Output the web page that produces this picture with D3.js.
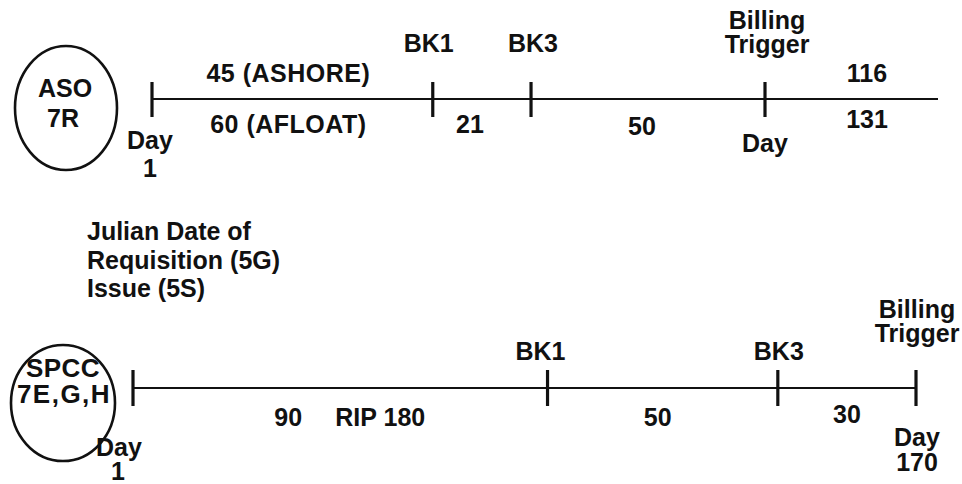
<!DOCTYPE html>
<html>
<head>
<meta charset="utf-8">
<script src="https://cdn.jsdelivr.net/npm/d3@7/dist/d3.min.js"></script>
<style>
  html, body { margin: 0; padding: 0; background: #fff; }
  svg text { font-family: "Liberation Sans", Arial, Helvetica, sans-serif; font-weight: bold; fill: #111; }
</style>
</head>
<body>
<svg id="chart" width="962" height="484"></svg>
<script>
// ---------------- DATA ----------------
// Upper timeline (ASO 7R), days from Day 1
const topMarkers = ["Day 1", "BK1", "BK3", "Billing Trigger"];
const topDays = [0, 60, 81, 131];
const topSegAbove = ["45 (ASHORE)", "", "", "116"];
const topSegBelow = ["60 (AFLOAT)", "21", "50", "131"];
const topEntity = ["ASO", "7R"];

// Lower timeline (SPCC 7E,G,H)
const botMarkers = ["Day 1", "BK1", "BK3", "Billing Trigger"];
const botDays = [0, 90, 140, 170];
const botSegBelow = ["90", "RIP 180", "50", "30"];
const botEntity = ["SPCC", "7E,G,H"];

const noteLines = ["Julian Date of", "Requisition (5G)", "Issue (5S)"];

// ---------------- LAYOUT ----------------
const svg = d3.select("#chart");
const ink = "#111";
const FS = 25;

const xTop = d3.scaleLinear().domain([0, d3.max(topDays)]).range([152, 765]);
const xBot = d3.scaleLinear().domain([0, d3.max(botDays)]).range([133, 916]);

const yTop = 99, yBot = 388;

function text(x, y, s, opts = {}) {
  return svg.append("text")
    .attr("x", x).attr("y", y)
    .attr("text-anchor", opts.anchor || "middle")
    .attr("font-size", opts.size || FS)
    .attr("letter-spacing", opts.ls || 0)
    .text(s);
}

// ----- Upper timeline -----
svg.append("line")
  .attr("x1", xTop(0)).attr("x2", 938)
  .attr("y1", yTop).attr("y2", yTop)
  .attr("stroke", ink).attr("stroke-width", 2.2);

svg.selectAll("line.ttick").data(topDays).enter().append("line")
  .attr("class", "ttick")
  .attr("x1", d => xTop(d)).attr("x2", d => xTop(d))
  .attr("y1", yTop - 17).attr("y2", yTop + 18)
  .attr("stroke", ink).attr("stroke-width", 3.2);

// marker labels
const tx = topDays.map(d => xTop(d));
text(tx[0] - 2, 149, "Day");
text(tx[0] - 2, 177, "1");
text(tx[1] - 4, 52, topMarkers[1]);
text(tx[2] + 2, 52, topMarkers[2]);
text(tx[3] + 2, 29, "Billing");
text(tx[3] + 2, 53, "Trigger");
text(tx[3], 152, "Day");

// segment labels
const tmid = [xTop((topDays[0] + topDays[1]) / 2), xTop((topDays[1] + topDays[2]) / 2), xTop((topDays[2] + topDays[3]) / 2), xTop(topDays[3]) + 102];
text(tmid[0] - 4, 82, topSegAbove[0], { ls: 0.5 });
text(tmid[0] - 4, 133, topSegBelow[0], { ls: 0.5 });
text(tmid[1] - 12, 133, topSegBelow[1]);
text(tmid[2] - 6, 135, topSegBelow[2]);
text(tmid[3], 82, topSegAbove[3]);
text(tmid[3], 128, topSegBelow[3]);

// entity ellipse
svg.append("ellipse")
  .attr("cx", 66).attr("cy", 108).attr("rx", 51).attr("ry", 62)
  .attr("fill", "none").attr("stroke", ink).attr("stroke-width", 2.6);
text(65, 97, topEntity[0]);
text(63, 127, topEntity[1]);

// ----- Note -----
noteLines.forEach((s, i) => text(87, 240 + i * 28.5, s, { anchor: "start" }));

// ----- Lower timeline -----
svg.append("line")
  .attr("x1", xBot(0)).attr("x2", xBot(d3.max(botDays)))
  .attr("y1", yBot).attr("y2", yBot)
  .attr("stroke", ink).attr("stroke-width", 2.2);

svg.selectAll("line.btick").data(botDays).enter().append("line")
  .attr("class", "btick")
  .attr("x1", d => xBot(d)).attr("x2", d => xBot(d))
  .attr("y1", yBot - 18).attr("y2", yBot + 18)
  .attr("stroke", ink).attr("stroke-width", 3.2);

const bx = botDays.map(d => xBot(d));
text(bx[0] - 14, 456, "Day");
text(bx[0] - 15, 480, "1");
text(bx[1] - 7, 360, botMarkers[1]);
text(bx[2] + 1, 360, botMarkers[2]);
text(bx[3] + 1, 318, "Billing");
text(bx[3] + 1, 342, "Trigger");
text(bx[3] + 1, 446, "Day");
text(bx[3] + 1, 471, "170");

const bmid = [xBot((botDays[0] + botDays[1]) / 2), xBot((botDays[1] + botDays[2]) / 2), xBot((botDays[2] + botDays[3]) / 2)];
text(bmid[0] - 52, 426, botSegBelow[0]);
text(bmid[0] + 40, 426, botSegBelow[1]);
text(bmid[1] - 5, 426, botSegBelow[2]);
text(bmid[2], 423, botSegBelow[3]);

svg.append("ellipse")
  .attr("cx", 63).attr("cy", 403).attr("rx", 52).attr("ry", 58)
  .attr("fill", "none").attr("stroke", ink).attr("stroke-width", 2.6);
text(63, 377, botEntity[0], { size: 26, ls: 0.5 });
text(64, 403, botEntity[1], { size: 26, ls: 1.5 });
</script>
</body>
</html>
